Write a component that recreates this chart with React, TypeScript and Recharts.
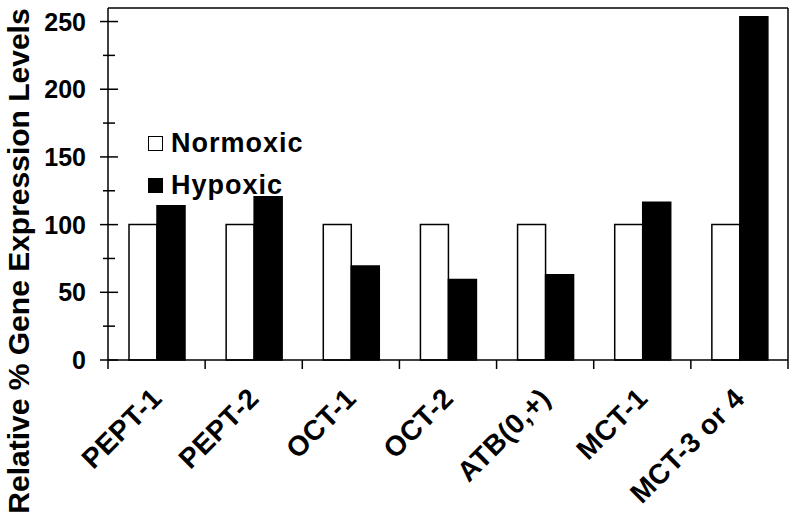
import React from 'react';
import { BarChart, Bar, XAxis, YAxis, Legend, ReferenceLine } from 'recharts';

const genes = ['PEPT-1', 'PEPT-2', 'OCT-1', 'OCT-2', 'ATB(0,+)', 'MCT-1', 'MCT-3 or 4'];
const normoxic = [100, 100, 100, 100, 100, 100, 100];
const hypoxic = [114, 120.5, 69.5, 59.5, 63, 116.5, 253.5];
const yTicks = [0, 25, 50, 75, 100, 125, 150, 175, 200, 225, 250];
const yMax = 260;

const data = genes.map((g, i) => ({ gene: g, Normoxic: normoxic[i], Hypoxic: hypoxic[i] }));

const FONT = '"Liberation Sans", Arial, sans-serif';

const YTick = (props: any) => {
    const { x, y, payload } = props;
    const major = payload.value % 50 === 0;
    return (
        <g>
            <line x1={x - (major ? 8 : 5)} x2={x + (major ? 10 : 7)} y1={y} y2={y} stroke="#000" strokeWidth={1.5} />
            {major && (
                <text x={x - 22} y={y} dy={9} textAnchor="end" fontFamily={FONT} fontWeight="bold" fontSize={25} fill="#000">
                    {payload.value}
                </text>
            )}
        </g>
    );
};

const XTick = (props: any) => {
    const { x, y, payload, index } = props;
    const half = payload.offset || 0;
    const ax = x + 7;
    const ay = y + 40;
    return (
        <g>
            <line x1={x - half} x2={x - half} y1={y} y2={y + 9} stroke="#000" strokeWidth={1.5} />
            {index === genes.length - 1 && (
                <line x1={x + half} x2={x + half} y1={y} y2={y + 9} stroke="#000" strokeWidth={1.5} />
            )}
            <text x={ax} y={ay} transform={`rotate(-45 ${ax} ${ay})`} textAnchor="end" fontFamily={FONT} fontWeight="bold" fontSize={28} letterSpacing={0.5} fill="#000">
                {payload.value}
            </text>
        </g>
    );
};

const YLabel = () => (
    <text x={29} y={261} transform="rotate(-90 29 261)" textAnchor="middle" fontFamily={FONT} fontWeight="bold" fontSize={30} fill="#000">
        Relative % Gene Expression Levels
    </text>
);

const LegendBox = () => (
    <div style={{ fontFamily: FONT, fontWeight: 'bold', fontSize: 27, color: '#000', lineHeight: '42px', textAlign: 'left', letterSpacing: 1 }}>
        {[{ name: 'Normoxic', fill: '#fff' }, { name: 'Hypoxic', fill: '#000' }].map((s) => (
            <div key={s.name} style={{ display: 'flex', alignItems: 'center' }}>
                <span style={{ display: 'inline-block', width: 13, height: 13, background: s.fill, border: '1.5px solid #000', marginRight: 8 }} />
                {s.name}
            </div>
        ))}
    </div>
);

export default function App() {
    return (
        <div style={{ position: 'absolute', left: 0, top: 0, width: 800, height: 519, background: '#fff' }}>
            <BarChart width={800} height={519} data={data} margin={{ top: 8, right: 12, left: 0, bottom: 0 }} barGap={0} barSize={28}>
                <XAxis
                    dataKey="gene"
                    height={159}
                    interval={0}
                    tickSize={0}
                    tickMargin={0}
                    tickLine={false}
                    axisLine={{ stroke: '#000', strokeWidth: 1.5 }}
                    tick={<XTick />}
                />
                <YAxis
                    width={108}
                    domain={[0, yMax]}
                    ticks={yTicks}
                    interval={0}
                    tickSize={0}
                    tickMargin={0}
                    tickLine={false}
                    axisLine={{ stroke: '#000', strokeWidth: 1.5 }}
                    tick={<YTick />}
                    label={{ content: () => <YLabel /> }}
                />
                <ReferenceLine y={yMax} stroke="#000" strokeWidth={1.5} />
                <ReferenceLine x={genes[genes.length - 1]} position="end" stroke="#000" strokeWidth={1.5} />
                <Legend content={<LegendBox />} layout="horizontal" verticalAlign="middle" align="center" wrapperStyle={{ left: 148, top: 122, width: 'auto' }} />
                <Bar dataKey="Normoxic" fill="#fff" stroke="#000" strokeWidth={1.5} isAnimationActive={false} />
                <Bar dataKey="Hypoxic" fill="#000" stroke="#000" strokeWidth={1.5} isAnimationActive={false} />
            </BarChart>
        </div>
    );
}
